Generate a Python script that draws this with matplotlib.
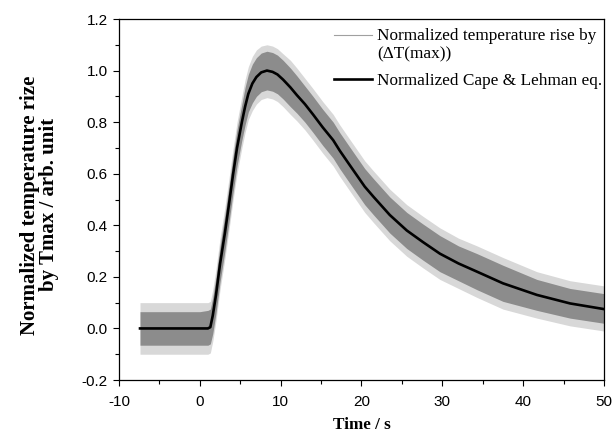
import matplotlib
matplotlib.use("Agg")
import matplotlib.pyplot as plt
from matplotlib.lines import Line2D
from matplotlib.legend_handler import HandlerLine2D
from matplotlib.ticker import MultipleLocator

# fitted curve (Cape & Lehman)
t = [-7.4, 0.0, 1.0, 1.3, 1.6, 2.0, 2.5, 3.1, 3.6, 4.1, 4.6, 5.2, 5.6, 6.0, 6.5,
     7.0, 7.6, 8.3, 9.0, 9.6, 10.3, 11.2, 12.0, 13.0, 14.0, 15.2, 16.5, 17.3,
     18.4, 19.4, 20.4, 21.5, 23.5, 25.6, 27.6, 29.7, 32.0, 34.3, 37.5, 41.7,
     45.8, 50.0]
fit = [0.0, 0.0, 0.0, 0.005, 0.05, 0.13, 0.25, 0.37, 0.48, 0.595, 0.70, 0.80,
       0.86, 0.91, 0.95, 0.975, 0.993, 1.0, 0.995, 0.985, 0.965, 0.935, 0.905,
       0.87, 0.83, 0.78, 0.73, 0.69, 0.64, 0.595, 0.55, 0.51, 0.44, 0.38, 0.335,
       0.29, 0.252, 0.22, 0.175, 0.13, 0.097, 0.075]

# measured (noisy) signal: dense band and spike extent at the same times
meas_hi = [0.065, 0.065, 0.07, 0.075, 0.12, 0.2, 0.32, 0.44, 0.55, 0.665, 0.77,
           0.87, 0.935, 0.985, 1.025, 1.05, 1.068, 1.075, 1.07, 1.06, 1.04, 1.01,
           0.98, 0.94, 0.90, 0.85, 0.80, 0.76, 0.71, 0.665, 0.62, 0.58, 0.51, 0.45,
           0.405, 0.36, 0.32, 0.29, 0.245, 0.19, 0.155, 0.135]
meas_lo = [-0.065, -0.065, -0.065, -0.06, -0.02, 0.06, 0.18, 0.3, 0.41, 0.525,
           0.63, 0.73, 0.79, 0.84, 0.875, 0.9, 0.918, 0.925, 0.92, 0.91, 0.89,
           0.86, 0.835, 0.8, 0.76, 0.71, 0.66, 0.62, 0.57, 0.525, 0.48, 0.44, 0.37,
           0.31, 0.265, 0.22, 0.185, 0.15, 0.105, 0.07, 0.04, 0.02]
spike_hi = [0.1, 0.1, 0.1, 0.105, 0.15, 0.23, 0.35, 0.47, 0.58, 0.695, 0.8, 0.9,
            0.965, 1.015, 1.055, 1.08, 1.095, 1.1, 1.095, 1.085, 1.065, 1.04,
            1.01, 0.97, 0.93, 0.88, 0.83, 0.79, 0.74, 0.695, 0.65, 0.61, 0.54,
            0.48, 0.435, 0.39, 0.35, 0.32, 0.275, 0.22, 0.185, 0.165]
spike_lo = [-0.1, -0.1, -0.1, -0.095, -0.05, 0.03, 0.15, 0.27, 0.38, 0.495, 0.6,
            0.7, 0.76, 0.81, 0.845, 0.87, 0.888, 0.895, 0.89, 0.88, 0.86, 0.83,
            0.805, 0.77, 0.73, 0.68, 0.63, 0.59, 0.54, 0.495, 0.45, 0.41, 0.34,
            0.28, 0.235, 0.19, 0.155, 0.12, 0.075, 0.04, 0.01, -0.01]


class TopLineHandler(HandlerLine2D):
    # put the legend line next to the first line of a two-line label
    def create_artists(self, legend, orig_handle, xdescent, ydescent, width,
                       height, fontsize, trans):
        arts = super().create_artists(legend, orig_handle, xdescent, ydescent,
                                      width, height, fontsize, trans)
        for a in arts:
            a.set_ydata([y + 0.56 * fontsize for y in a.get_ydata()])
        return arts


plt.rcParams['font.family'] = ['Liberation Serif', 'DejaVu Serif']
plt.rcParams['axes.unicode_minus'] = False

fig = plt.figure(figsize=(6.14, 4.38), dpi=100)
ax = fig.add_axes([0.1938, 0.1324, 0.7899, 0.8242])

ax.fill_between(t, spike_lo, spike_hi, color='#d8d8d8', lw=0)
ax.fill_between(t, meas_lo, meas_hi, color='#8c8c8c', lw=0)
ax.plot(t, fit, color='black', lw=1.9)

ax.set_xlim(-10, 50)
ax.set_ylim(-0.2, 1.2)
ax.xaxis.set_major_locator(MultipleLocator(10))
ax.xaxis.set_minor_locator(MultipleLocator(5))
ax.yaxis.set_major_locator(MultipleLocator(0.2))
ax.yaxis.set_minor_locator(MultipleLocator(0.1))
ax.yaxis.set_major_formatter(plt.FormatStrFormatter('%.1f'))
ax.tick_params(which='major', direction='out', length=4.5, width=0.8)
ax.tick_params(which='minor', direction='out', length=2.8, width=0.8)
ax.tick_params(axis='x', pad=6)
for lab in ax.get_xticklabels() + ax.get_yticklabels():
    lab.set_fontfamily('Liberation Sans')
    lab.set_fontsize(11)
for sp in ax.spines.values():
    sp.set_linewidth(0.9)

ax.set_xlabel('Time / s', fontsize=12.3, fontweight='bold', labelpad=6)
ax.set_ylabel('Normalized temperature rize\nby Tmax / arb. unit', fontsize=15,
              fontweight='bold', linespacing=0.92, va='center')
ax.yaxis.set_label_coords(-0.164, 0.485)

gray_h = Line2D([], [], color='#a0a0a0', lw=0.8)
black_h = Line2D([], [], color='black', lw=1.9)
labels = ['Normalized temperature rise by\n(\u0394T(max))',
          'Normalized Cape & Lehman eq.']
ax.legend([gray_h, black_h], labels, loc='upper right', frameon=False,
          bbox_to_anchor=(1.01, 0.995), fontsize=12.4, handlelength=2.2,
          handletextpad=0.3, borderaxespad=0.0, labelspacing=0.65,
          handler_map={gray_h: TopLineHandler()})

fig.savefig('out.png', dpi=100)
